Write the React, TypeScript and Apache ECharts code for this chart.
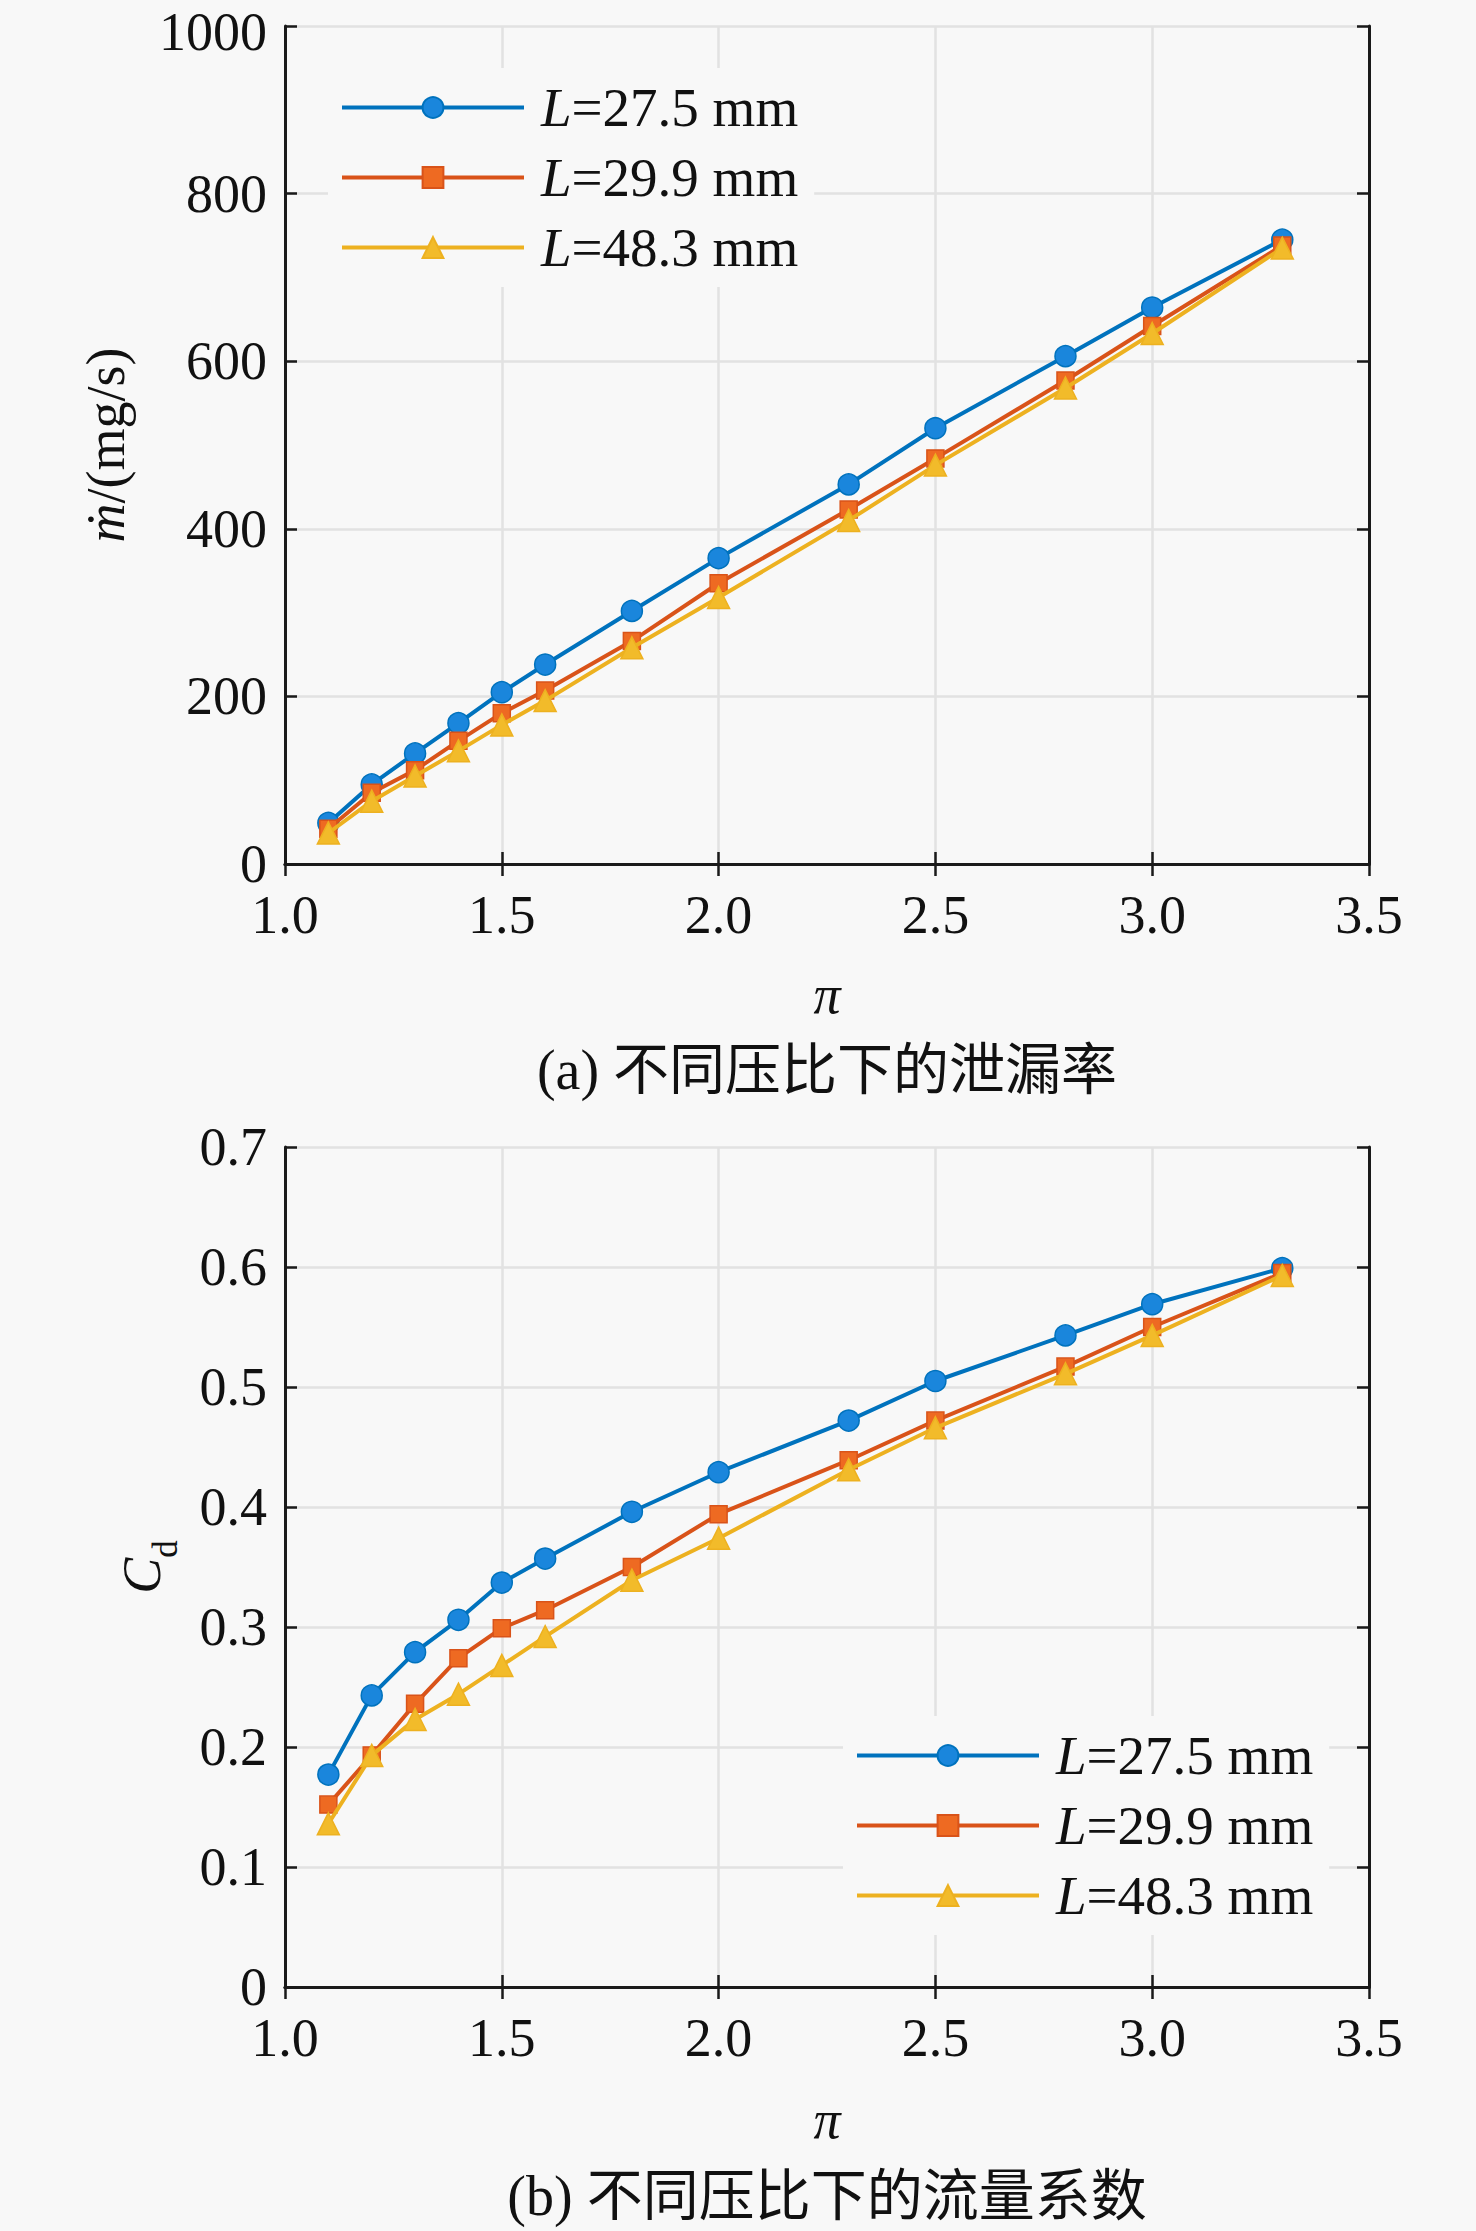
import React, { useEffect, useRef } from "react";
import * as echarts from "echarts";

const piValues = [1.1, 1.2, 1.3, 1.4, 1.5, 1.6, 1.8, 2.0, 2.3, 2.5, 2.8, 3.0, 3.3];
const seriesNames = ["L=27.5 mm", "L=29.9 mm", "L=48.3 mm"];

const leak275 = [49, 95, 132, 168, 205, 238, 302, 365, 453, 520, 606, 664, 745];
const leak299 = [42, 85, 112, 147, 180, 207, 266, 335, 423, 484, 577, 642, 738];
const leak483 = [37, 75, 105, 135, 166, 195, 258, 318, 410, 476, 568, 633, 735];

const cd275 = [0.177, 0.243, 0.279, 0.306, 0.337, 0.357, 0.396, 0.429, 0.472, 0.505, 0.543, 0.569, 0.599];
const cd299 = [0.152, 0.193, 0.236, 0.274, 0.299, 0.314, 0.350, 0.394, 0.439, 0.472, 0.517, 0.550, 0.595];
const cd483 = [0.136, 0.193, 0.223, 0.244, 0.268, 0.292, 0.339, 0.374, 0.431, 0.466, 0.511, 0.543, 0.593];

const captionA = "(a) 不同压比下的泄漏率";
const captionB = "(b) 不同压比下的流量系数";

const BG = "#f8f8f8";
const SERIF = "'Liberation Serif', 'DejaVu Serif', 'Times New Roman', serif";
const CJK = "'Liberation Serif', 'Noto Sans CJK SC', serif";
const LINE_COLORS = ["#0072BD", "#D95319", "#EDB120"];
const FILL_COLORS = ["#1a86dc", "#ee6a22", "#f2bb2a"];
const SYMBOLS = ["circle", "rect", "triangle"];
const SYMBOL_SIZES = [21, 17, 22];

const W = 1476;
const H = 2231;
const GL = 285;
const GW = 1084;
const FS = 54;
const LFS = 55;
const CENTER_X = GL + GW / 2;

function pairs(ys: number[]) {
  return piValues.map((x, i) => [x, ys[i]]);
}

export default function App() {
  const ref = useRef<HTMLDivElement>(null);
  useEffect(() => {
    if (!ref.current) return;
    const chart = echarts.init(ref.current, undefined, { renderer: "svg" });

    const axisLine = { show: true, lineStyle: { color: "#1a1a1a", width: 3 } };
    const tickIn = { show: true, inside: true, length: 12, lineStyle: { color: "#1a1a1a", width: 2.5 } };
    const split = { show: true, lineStyle: { color: "#e2e2e2", width: 2.5 } };
    const labelStyle = { fontFamily: SERIF, fontSize: FS, color: "#111" };

    const xBase = (gridIndex: number, labelMargin: number, nameGap: number) => ({
      type: "value",
      gridIndex,
      min: 1.0,
      max: 3.5,
      interval: 0.5,
      axisLine,
      axisTick: tickIn,
      splitLine: split,
      axisLabel: {
        ...labelStyle,
        margin: labelMargin,
        formatter: (v: number) => v.toFixed(1),
      },
      name: "π",
      nameLocation: "middle",
      nameGap,
      nameTextStyle: { fontFamily: SERIF, fontSize: FS, fontStyle: "italic", color: "#111" },
    });
    const xTop = (gridIndex: number) => ({
      type: "value",
      gridIndex,
      position: "top",
      min: 1.0,
      max: 3.5,
      interval: 0.5,
      axisLine,
      axisTick: tickIn,
      splitLine: { show: false },
      axisLabel: { show: false },
    });

    const yRight = (gridIndex: number, min: number, max: number, interval: number) => ({
      type: "value",
      gridIndex,
      position: "right",
      min,
      max,
      interval,
      axisLine,
      axisTick: tickIn,
      splitLine: { show: false },
      axisLabel: { show: false },
    });

    const legendBase = {
      orient: "vertical",
      itemWidth: 182,
      itemHeight: 26,
      itemGap: 15,
      backgroundColor: BG,
      borderWidth: 0,
      padding: [12, 16, 12, 12],
      selectedMode: false,
      data: seriesNames,
      lineStyle: { width: 4 },
      textStyle: {
        fontFamily: SERIF,
        fontSize: LFS,
        color: "#111",
        padding: [0, 0, 0, 12],
        rich: {
          i: { fontFamily: SERIF, fontSize: LFS, fontStyle: "italic", color: "#111" },
          n: { fontFamily: SERIF, fontSize: LFS, color: "#111" },
        },
      },
      formatter: (name: string) => `{i|L}{n|${name.slice(1)}}`,
    };

    const makeSeries = (xi: number, yi: number, arrs: number[][]) =>
      arrs.map((arr, k) => ({
        name: seriesNames[k],
        type: "line",
        xAxisIndex: xi,
        yAxisIndex: yi,
        data: pairs(arr),
        symbol: SYMBOLS[k],
        symbolSize: SYMBOL_SIZES[k],
        showSymbol: true,
        lineStyle: { color: LINE_COLORS[k], width: 4 },
        itemStyle: { color: FILL_COLORS[k], borderColor: LINE_COLORS[k], borderWidth: 1.5 },
        emphasis: { disabled: true },
        z: 3 + k,
      }));

    chart.setOption({
      animation: false,
      backgroundColor: BG,
      grid: [
        { left: GL, top: 26, width: GW, height: 838, containLabel: false },
        { left: GL, top: 1147, width: GW, height: 840, containLabel: false },
      ],
      legend: [
        { ...legendBase, left: 328, top: 68 },
        { ...legendBase, left: 843, top: 1716 },
      ],
      xAxis: [xBase(0, 24, 104), xTop(0), xBase(1, 24, 106), xTop(1)],
      yAxis: [
        {
          type: "value",
          gridIndex: 0,
          min: 0,
          max: 1000,
          interval: 200,
          axisLine,
          axisTick: tickIn,
          splitLine: split,
          axisLabel: {
            ...labelStyle,
            margin: 18,
            formatter: (v: number) => (v === 1000 ? `{t|${v}}` : String(v)),
            rich: {
              t: { fontFamily: SERIF, fontSize: FS, color: "#111", padding: [12, 0, 0, 0] },
            },
          },
          name: "{i|ṁ}{n|/(mg/s)}",
          nameLocation: "middle",
          nameRotate: 90,
          nameGap: 152,
          nameTextStyle: {
            fontFamily: SERIF,
            fontSize: FS,
            color: "#111",
            rich: {
              i: { fontFamily: SERIF, fontSize: FS, fontStyle: "italic", color: "#111" },
              n: { fontFamily: SERIF, fontSize: FS, color: "#111" },
            },
          },
        },
        yRight(0, 0, 1000, 200),
        {
          type: "value",
          gridIndex: 1,
          min: 0,
          max: 0.7,
          interval: 0.1,
          axisLine,
          axisTick: tickIn,
          splitLine: split,
          axisLabel: {
            ...labelStyle,
            margin: 18,
            formatter: (v: number) => (v === 0 ? "0" : v.toFixed(1)),
          },
          name: "{i|C}{s|d}",
          nameLocation: "middle",
          nameRotate: 90,
          nameGap: 116,
          nameTextStyle: {
            fontFamily: SERIF,
            fontSize: FS,
            color: "#111",
            rich: {
              i: { fontFamily: SERIF, fontSize: FS, fontStyle: "italic", color: "#111" },
              s: { fontFamily: SERIF, fontSize: 35, color: "#111", verticalAlign: "bottom", padding: [0, 0, -14, 0] },
            },
          },
        },
        yRight(1, 0, 0.7, 0.1),
      ],
      graphic: [
        {
          type: "text",
          x: CENTER_X,
          y: 1070,
          style: { text: captionA, font: `56px ${CJK}`, fill: "#111", align: "center", verticalAlign: "middle" },
        },
        {
          type: "text",
          x: CENTER_X,
          y: 2196,
          style: { text: captionB, font: `56px ${CJK}`, fill: "#111", align: "center", verticalAlign: "middle" },
        },
      ],
      series: [
        ...makeSeries(0, 0, [leak275, leak299, leak483]),
        ...makeSeries(2, 2, [cd275, cd299, cd483]),
      ],
    });

    return () => chart.dispose();
  }, []);

  return (
    <div
      ref={ref}
      style={{ position: "absolute", left: 0, top: 0, width: W, height: H, background: BG }}
    />
  );
}
